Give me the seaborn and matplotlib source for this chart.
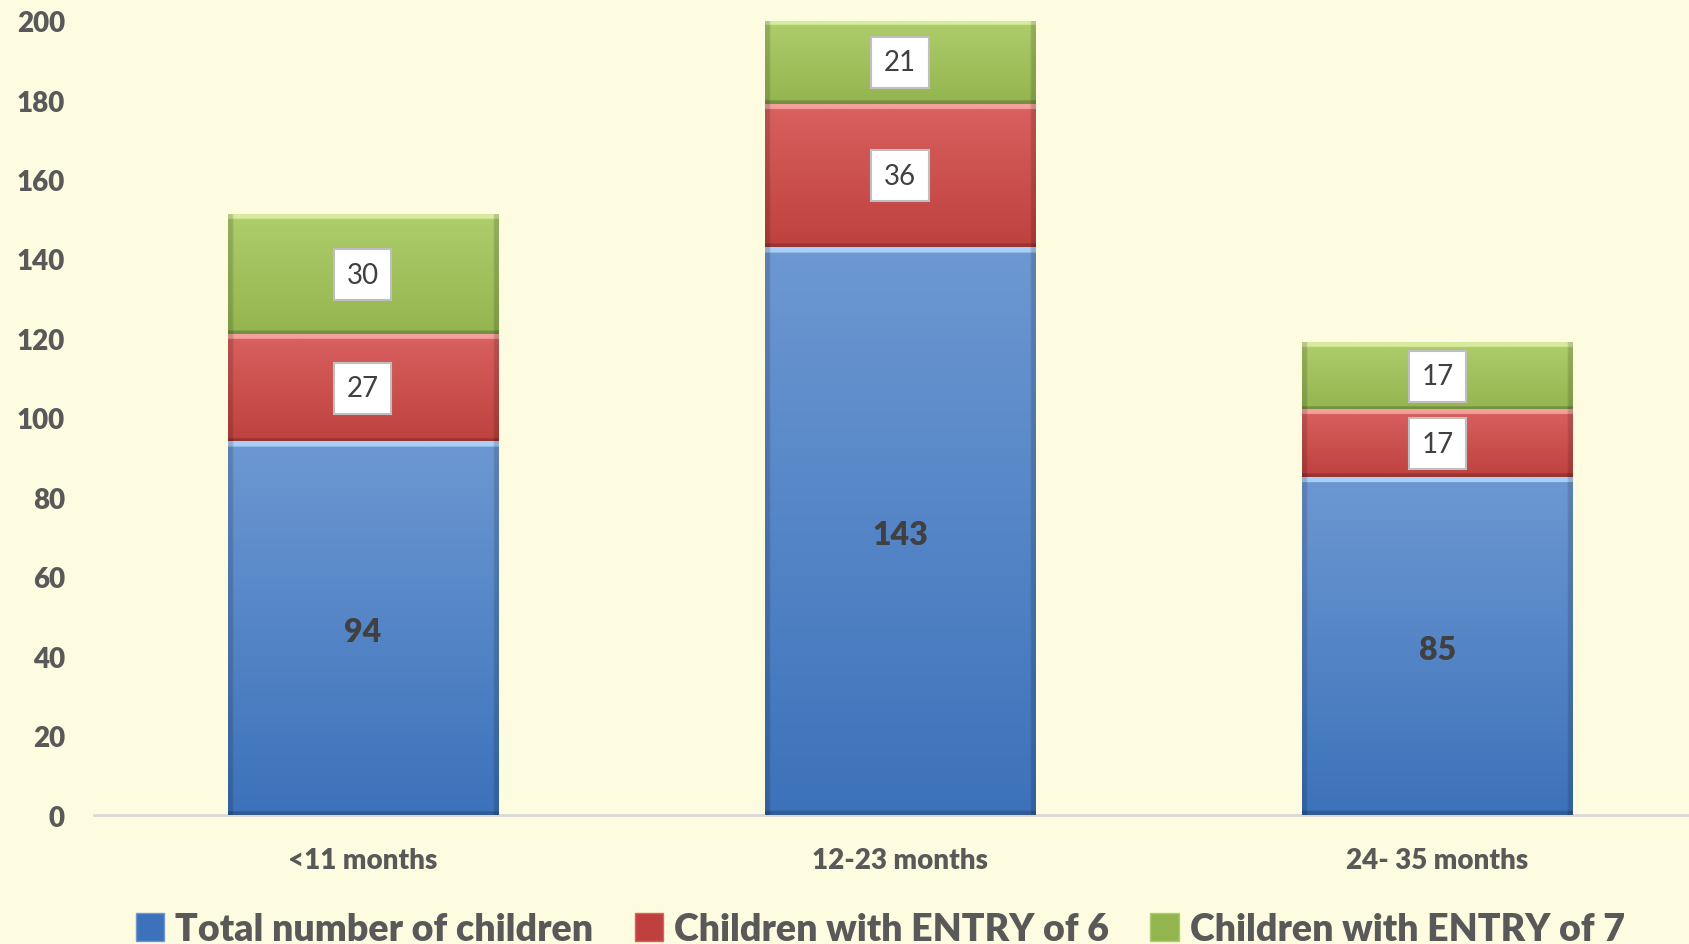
import numpy as np
import pandas as pd
import matplotlib.pyplot as plt
from matplotlib.patches import Patch
from matplotlib.colors import to_rgb
import seaborn as sns

# Data
ages = ['<11 months', '12-23 months', '24- 35 months']
total_children = [94, 143, 85]
entry_6 = [27, 36, 17]
entry_7 = [30, 21, 17]
series_names = ['Total number of children', 'Children with ENTRY of 6', 'Children with ENTRY of 7']

bg = '#fefce0'
txt = '#595959'
top_cols = ['#6d98d2', '#d9615f', '#afcd6c']
bot_cols = ['#3c72ba', '#be413e', '#93b54f']
light_cols = ['#a8cff7', '#f4a09c', '#d6eb9c']

sns.set_theme(style='white')
plt.rcParams['font.family'] = ['Lato', 'DejaVu Sans']

df = pd.DataFrame({'age': ages, 'total': total_children, 'e6': entry_6, 'e7': entry_7})
df['top6'] = df['total'] + df['e6']
df['top7'] = df['top6'] + df['e7']

fig = plt.figure(figsize=(16.9, 9.45), dpi=100, facecolor=bg)
ax = fig.add_axes([0.0556, 0.1365, 0.9444, 0.8406])
ax.set_facecolor(bg)


def shade(ax, x0, w, y0, y1, k):
    # vertical gradient with a light top edge and darker borders (bevel look)
    ys = np.linspace(y1, y0, 400)
    xs = np.linspace(x0, x0 + w, 160)
    t = (y1 - ys) / (y1 - y0)
    top, bot, lt = (np.array(to_rgb(c)) for c in (top_cols[k], bot_cols[k], light_cols[k]))
    rows = top[None, :] * (1 - t[:, None]) + bot[None, :] * t[:, None]
    img = np.repeat(rows[:, None, :], len(xs), axis=1)
    img[(y1 - ys) < 1.2] = lt
    img[(ys - y0) < 0.9] *= 0.8
    side = ((xs - x0) < 0.008) | ((x0 + w - xs) < 0.008)
    img[:, side] *= 0.85
    ax.imshow(np.clip(img, 0, 1), extent=(x0, x0 + w, y0, y1), aspect='auto',
              interpolation='bilinear', zorder=3)


# stacked bars drawn as overlapping cumulative totals
layers = [('top7', 'e7', 2), ('top6', 'e6', 1), ('total', 'total', 0)]
for col, valcol, k in layers:
    n0 = len(ax.patches)
    sns.barplot(data=df, x='age', y=col, color=bot_cols[k], width=0.503, ax=ax,
                saturation=1, edgecolor='none')
    for p, top, val in zip(ax.patches[n0:], df[col], df[valcol]):
        shade(ax, p.get_x(), p.get_width(), top - val, top, k)

# data labels
for i in range(len(ages)):
    ax.text(i, df['total'][i] / 2 - 0.8, str(df['total'][i]), ha='center', va='center',
            fontsize=23, fontweight='heavy', color='#404040', zorder=5)
    for base, v in [(df['total'][i], df['e6'][i]), (df['top6'][i], df['e7'][i])]:
        ax.text(i, base + v / 2, str(v), ha='center', va='center', fontsize=20,
                color='#404040', zorder=5,
                bbox=dict(boxstyle='square,pad=0.45', fc='white', ec='#bfbfbf', lw=1.5))

ax.set_xlim(-0.5, 2.47)
ax.set_ylim(0, 200)
ax.set_yticks(range(0, 201, 20))
ax.set_xlabel('')
ax.set_ylabel('')
sns.despine(ax=ax, left=True)
ax.spines['bottom'].set_color('#d9d9d9')
ax.spines['bottom'].set_linewidth(2)
ax.tick_params(axis='both', length=0, labelsize=20, labelcolor=txt)
ax.tick_params(axis='y', pad=21)
ax.tick_params(axis='x', pad=23)
for lbl in ax.get_xticklabels() + ax.get_yticklabels():
    lbl.set_fontweight('heavy')

handles = [Patch(facecolor=bot_cols[k], edgecolor=top_cols[k]) for k in range(3)]
fig.legend(handles, series_names, loc='center', bbox_to_anchor=(0.521, 0.016), ncol=3,
           frameon=False, prop=dict(weight='heavy', size=27), labelcolor=txt,
           handlelength=0.75, handleheight=0.75, handletextpad=0.3, columnspacing=1.1)

fig.savefig('out.png', dpi=100, facecolor=bg)
